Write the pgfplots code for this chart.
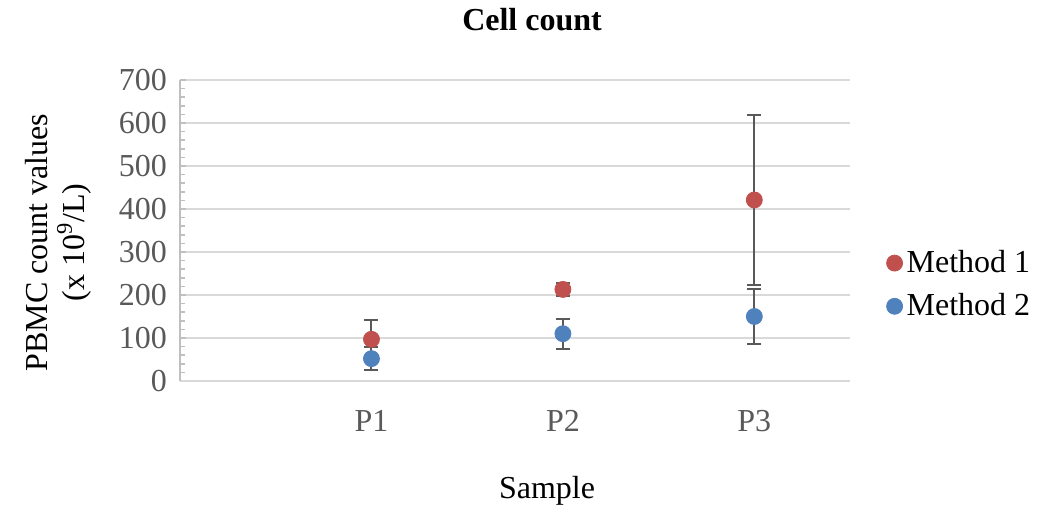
\documentclass[border=0pt]{standalone}
\usepackage{pgfplots}
\pgfplotsset{compat=1.18}
\usepackage{fontspec}
\setmainfont{Liberation Serif}
\definecolor{mred}{HTML}{C0504D}
\definecolor{mblue}{HTML}{4F81BD}
\definecolor{errgray}{HTML}{595959}
\definecolor{gridgray}{HTML}{D9D9D9}
\definecolor{axgray}{HTML}{BFBFBF}
\definecolor{labgray}{HTML}{595959}
\pgfplotsset{
    errstyle/.style={
      error bars/y dir=both,
      error bars/y explicit,
      error bars/error bar style={errgray, line width=1pt},
      error bars/error mark options={rotate=90, errgray, line width=1pt, mark size=3.5pt},
    },
}
\begin{document}
\begin{tikzpicture}
\begin{axis}[
    scale only axis,
    width=335pt,
    height=150.5pt,
    xmin=0, xmax=3.5,
    ymin=0, ymax=700,
    xtick={1,2,3},
    xticklabels={P1,P2,P3},
    ytick={0,100,...,700},
    minor y tick num=4,
    axis x line=bottom,
    axis y line=left,
    axis line style={-},
    x axis line style={gridgray, line width=0.75pt},
    y axis line style={axgray, line width=0.75pt},
    xtick style={draw=none},
    ytick style={axgray, line width=0.75pt},
    tick align=inside,
    major tick length=3pt,
    minor tick length=2.5pt,
    ymajorgrids,
    grid style={gridgray, line width=0.75pt},
    /pgf/number format/assume math mode=true,
    tick label style={font=\fontsize{16}{18}\selectfont, labgray},
    x tick label style={yshift=-11pt},
    y tick label style={xshift=-3pt},
    xlabel={Sample},
    xlabel style={font=\fontsize{16}{18}\selectfont, yshift=-15.5pt, xshift=16pt},
    ylabel={PBMC count values\\(x 10\textsuperscript{9}/L)},
    ylabel style={font=\fontsize{16}{18.5}\selectfont, align=center, yshift=7pt, xshift=-6pt},
    title={\textbf{Cell count}},
    title style={font=\fontsize{16}{18}\selectfont, at={(0.5,1)}, anchor=south, yshift=15pt, xshift=8.5pt},
    legend style={draw=none, fill=none, at={(1.045,0.32)}, anchor=west,
        font=\fontsize{16}{18}\selectfont, row sep=5pt},
    legend cell align=left,
    legend image code/.code={\draw[#1] plot coordinates {(0.1cm,0cm)};},
]
\coordinate (bl) at (rel axis cs:-0.2687,-0.4186);
\coordinate (tr) at (rel axis cs:1.288,1.2658);
\addplot[only marks, mark=*, mark size=4pt, mred, mark options={draw=mred, fill=mred}, errstyle]
    coordinates {(1,97) +- (0,45) (2,213) +- (0,15) (3,421) +- (0,197)};
\addlegendentry{Method 1}
\addplot[only marks, mark=*, mark size=4pt, mblue, mark options={draw=mblue, fill=mblue}, errstyle]
    coordinates {(1,52) +- (0,26) (2,110) +- (0,35) (3,150) +- (0,65)};
\addlegendentry{Method 2}
\end{axis}
\pgfresetboundingbox
\path[use as bounding box] (bl) rectangle (tr);
\end{tikzpicture}
\end{document}
